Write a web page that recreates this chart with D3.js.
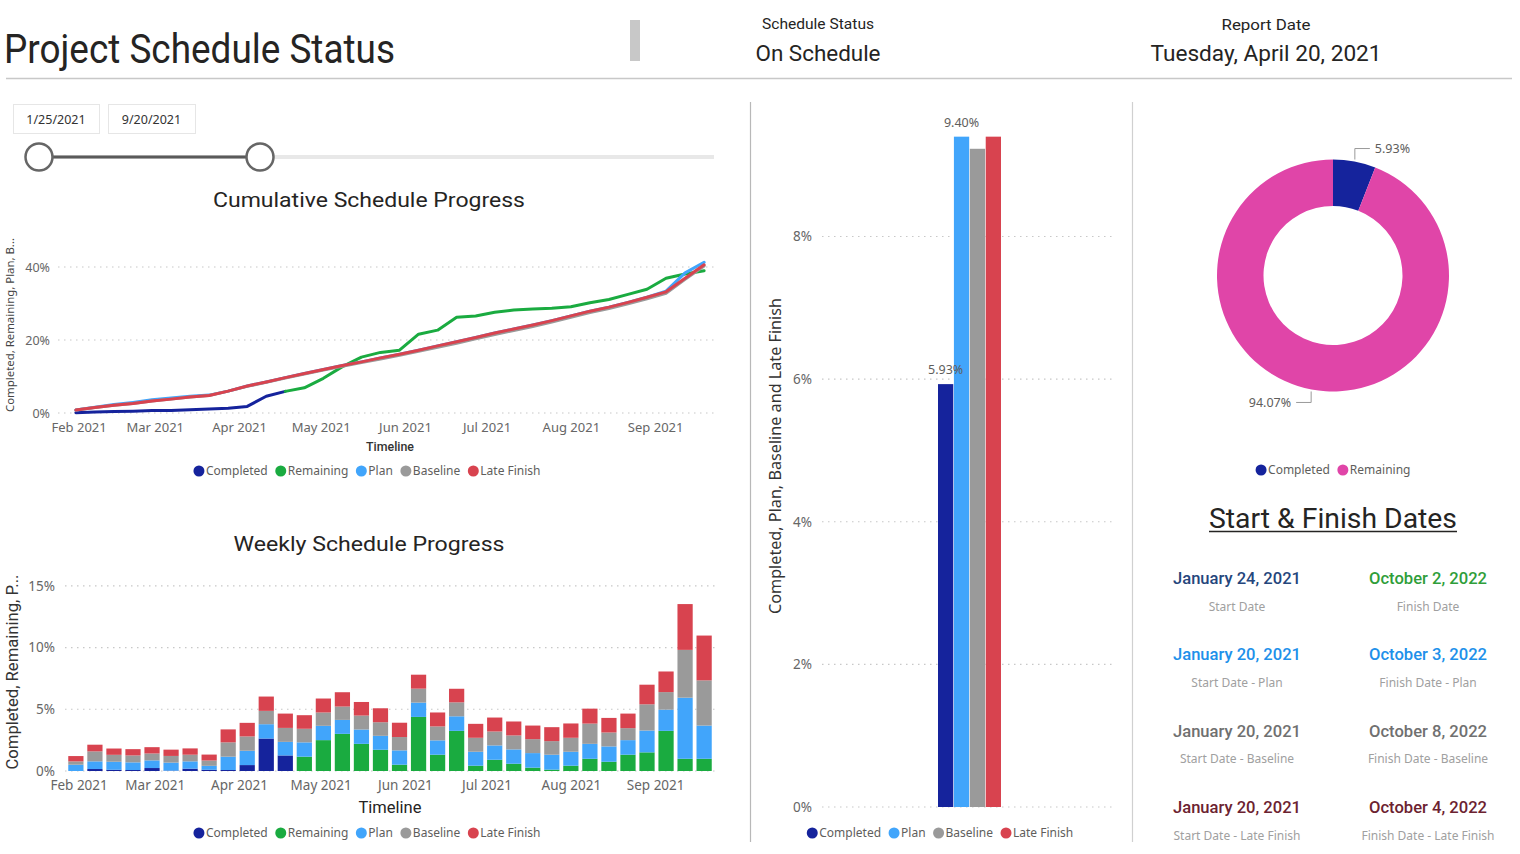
<!DOCTYPE html>
<html><head><meta charset="utf-8">
<script src="https://cdn.jsdelivr.net/npm/d3@7/dist/d3.min.js"></script>
<style>
html,body{margin:0;padding:0;background:#fff;overflow:hidden;}
svg{display:block;}
</style></head>
<body>
<svg id="chart" width="1520" height="854"></svg>
<script>
// ---------------- DATA ----------------
const seriesNames = ["Completed", "Remaining", "Plan", "Baseline", "Late Finish"];
const seriesColors = ["#15239c", "#1aab40", "#41a5fb", "#9a9a9a", "#d8434f"];

const weekStarts = ["2021-01-31","2021-02-07","2021-02-14","2021-02-21","2021-02-28","2021-03-07","2021-03-14",
  "2021-03-21","2021-03-28","2021-04-04","2021-04-11","2021-04-18","2021-04-25","2021-05-02","2021-05-09",
  "2021-05-16","2021-05-23","2021-05-30","2021-06-06","2021-06-13","2021-06-20","2021-06-27","2021-07-04",
  "2021-07-11","2021-07-18","2021-07-25","2021-08-01","2021-08-08","2021-08-15","2021-08-22","2021-08-29",
  "2021-09-05","2021-09-12","2021-09-19"];

// weekly (%)
const completedWeekly = [0, 0.16, 0.10, 0.08, 0.24, 0.03, 0.19, 0.10, 0.08, 0.48, 2.63, 1.26,
  0, 0, 0, 0, 0, 0, 0, 0, 0, 0, 0, 0, 0, 0, 0, 0, 0, 0, 0, 0, 0, 0];
const remainingWeekly = [0, 0, 0, 0, 0, 0, 0, 0, 0, 0, 0, 0,
  1.16, 2.50, 3.01, 2.20, 1.72, 0.51, 4.38, 1.32, 3.25, 0.43, 0.91, 0.59, 0.27, 0.11, 0.43, 0.99, 0.75, 1.32, 1.51, 3.25, 0.99, 0.99];
const planWeekly = [0.51, 0.62, 0.65, 0.62, 0.62, 0.65, 0.59, 0.32, 1.08, 1.16, 1.16, 1.10, 1.16, 1.16, 1.13, 1.16, 1.13,
  1.16, 1.16, 1.16, 1.18, 1.13, 1.16, 1.16, 1.18, 1.21, 1.13, 1.21, 1.24, 1.18, 1.77, 1.72, 4.95, 2.69];
const baselineWeekly = [0.27, 0.81, 0.56, 0.56, 0.56, 0.54, 0.54, 0.43, 1.16, 1.16, 1.08, 1.13, 1.10, 1.08, 1.08, 1.13, 1.10,
  1.08, 1.13, 1.13, 1.13, 1.13, 1.13, 1.13, 1.13, 1.10, 1.13, 1.64, 1.13, 0.97, 2.12, 1.42, 3.87, 3.66];
const lateFinishWeekly = [0.43, 0.54, 0.51, 0.51, 0.51, 0.51, 0.51, 0.48, 1.05, 1.10, 1.16, 1.16, 1.10, 1.13, 1.16, 1.10, 1.13,
  1.16, 1.13, 1.13, 1.10, 1.13, 1.13, 1.13, 1.10, 1.13, 1.16, 1.21, 1.18, 1.18, 1.59, 1.67, 3.71, 3.63];

// cumulative (%)
const completedCum = [0.1, 0.3, 0.4, 0.5, 0.7, 0.7, 0.9, 1.1, 1.3, 1.8, 4.6, 5.93,
  null, null, null, null, null, null, null, null, null, null, null, null, null, null, null, null, null, null, null, null, null, null];
const remainingCum = [null, null, null, null, null, null, null, null, null, null, null, 5.93,
  6.9, 9.5, 12.7, 15.3, 16.6, 17.2, 21.6, 22.7, 26.2, 26.6, 27.6, 28.2, 28.5, 28.7, 29.1, 30.2, 31.1, 32.5, 33.9, 36.9, 38.1, 39.0];
const planCum = [0.8, 1.6, 2.3, 2.9, 3.6, 4.1, 4.6, 4.9, 6.0, 7.4, 8.5, 9.7, 10.8, 11.9, 13.0, 14.0, 15.1,
  16.1, 17.2, 18.4, 19.5, 20.7, 21.9, 23.0, 24.1, 25.3, 26.6, 27.9, 29.0, 30.3, 31.7, 33.4, 38.4, 41.3];
const baselineCum = [0.8, 1.5, 2.1, 2.6, 3.3, 3.8, 4.4, 4.8, 6.0, 7.3, 8.4, 9.6, 10.7, 11.8, 12.8, 13.8, 14.8,
  15.8, 16.9, 18.0, 19.1, 20.3, 21.5, 22.6, 23.7, 24.9, 26.2, 27.5, 28.6, 29.9, 31.3, 32.8, 36.6, 40.3];
const lateFinishCum = [0.8, 1.5, 2.1, 2.6, 3.3, 3.8, 4.4, 4.8, 6.0, 7.4, 8.5, 9.7, 10.8, 11.9, 13.0, 14.0, 15.1,
  16.1, 17.2, 18.4, 19.5, 20.7, 21.9, 23.0, 24.1, 25.3, 26.6, 27.9, 29.0, 30.3, 31.7, 33.2, 36.9, 40.6];

// summary column chart (%)
const summaryNames = ["Completed", "Plan", "Baseline", "Late Finish"];
const summaryColors = ["#15239c", "#41a5fb", "#9a9a9a", "#d8434f"];
const summaryValues = [5.93, 9.40, 9.23, 9.40];
const summaryLabelShown = [true, true, false, false];
const summaryTicks = [0, 2, 4, 6, 8];

// donut (%)
const donutNames = ["Completed", "Remaining"];
const donutValues = [5.93, 94.07];
const donutColors = ["#15239c", "#e045a8"];

const cumTicks = [0, 20, 40];
const weeklyTicks = [0, 5, 10, 15];

// header & cards
const pageTitle = "Project Schedule Status";
const statusLabel = "Schedule Status";
const statusValue = "On Schedule";
const reportLabel = "Report Date";
const reportValue = "Tuesday, April 20, 2021";
const sliderStart = "1/25/2021";
const sliderEnd = "9/20/2021";

const datesTitle = "Start & Finish Dates";
const startDates = ["January 24, 2021", "January 20, 2021", "January 20, 2021", "January 20, 2021"];
const startLabels = ["Start Date", "Start Date - Plan", "Start Date - Baseline", "Start Date - Late Finish"];
const finishDates = ["October 2, 2022", "October 3, 2022", "October 8, 2022", "October 4, 2022"];
const finishLabels = ["Finish Date", "Finish Date - Plan", "Finish Date - Baseline", "Finish Date - Late Finish"];
const startColors = ["#25467c", "#2090ea", "#707070", "#6c2230"];
const finishColors = ["#2f9e3a", "#2090ea", "#707070", "#6c2230"];

// ---------------- DRAW ----------------
const svg = d3.select("#chart");
const DIN = "Roboto, 'DejaVu Sans', sans-serif";
const SEG = "'Noto Sans', 'Open Sans', sans-serif";
const AXIS = "#666666";
const GRID = "#c8c8c8";
const parse = d3.timeParse("%Y-%m-%d");
const dates = weekStarts.map(parse);

function addText(parent, x, y, str, o = {}) {
  const t = parent.append("text").attr("x", x).attr("y", y).text(str)
    .attr("font-family", o.family || SEG).attr("font-size", o.size || 12)
    .attr("fill", o.fill || "#333").attr("text-anchor", o.anchor || "start");
  if (o.weight) t.attr("font-weight", o.weight);
  if (o.width) t.attr("textLength", o.width).attr("lengthAdjust", "spacingAndGlyphs");
  if (o.rotate) t.attr("transform", `rotate(-90 ${x} ${y})`);
  return t;
}

function legend(cx, y, names, colors) {
  const g = svg.append("g");
  let x = 0;
  names.forEach((n, i) => {
    if (i > 0) x += 7.5;
    g.append("circle").attr("cx", x + 5.5).attr("cy", y).attr("r", 5.5).attr("fill", colors[i]);
    const t = addText(g, x + 12.5, y + 4.3, n, { size: 12, fill: "#605e5c" });
    x += 12.5 + t.node().getComputedTextLength();
  });
  g.attr("transform", `translate(${cx - x / 2},0)`);
}

// Header
addText(svg, 4, 63, pageTitle, { family: DIN, size: 40, fill: "#252423", width: 391 });
svg.append("rect").attr("x", 630).attr("y", 20).attr("width", 10).attr("height", 41).attr("fill", "#c8c8c8");
addText(svg, 818, 29, statusLabel, { family: DIN, size: 15, fill: "#252423", anchor: "middle", width: 112 });
addText(svg, 818, 61, statusValue, { family: DIN, size: 22, fill: "#252423", anchor: "middle", width: 125 });
addText(svg, 1266, 30, reportLabel, { family: DIN, size: 15, fill: "#252423", anchor: "middle", width: 89 });
addText(svg, 1266, 61, reportValue, { family: DIN, size: 22, fill: "#252423", anchor: "middle", width: 231 });
svg.append("line").attr("x1", 6).attr("x2", 1512).attr("y1", 78.5).attr("y2", 78.5)
  .attr("stroke", "#c8c8c8").attr("stroke-width", 1.5);

// Panel separators
svg.append("line").attr("x1", 750.5).attr("x2", 750.5).attr("y1", 102).attr("y2", 842).attr("stroke", "#b8b8b8").attr("stroke-width", 1.2);
svg.append("line").attr("x1", 1132.5).attr("x2", 1132.5).attr("y1", 102).attr("y2", 842).attr("stroke", "#d0d0d0").attr("stroke-width", 1.2);

// Slicer
[[13, 86, sliderStart], [108, 87, sliderEnd]].forEach(([x, w, s]) => {
  svg.append("rect").attr("x", x + 0.5).attr("y", 104.5).attr("width", w).attr("height", 29)
    .attr("fill", "#fff").attr("stroke", "#e6e6e6");
  addText(svg, x + w / 2, 124, s, { size: 12.5, fill: "#333", anchor: "middle" });
});
svg.append("line").attr("x1", 39).attr("x2", 714).attr("y1", 157).attr("y2", 157).attr("stroke", "#e8e8e8").attr("stroke-width", 4);
svg.append("line").attr("x1", 39).attr("x2", 260).attr("y1", 157).attr("y2", 157).attr("stroke", "#5a5a5a").attr("stroke-width", 3);
[39, 260].forEach(cx => svg.append("circle").attr("cx", cx).attr("cy", 157).attr("r", 13.5)
  .attr("fill", "#fff").attr("stroke", "#666").attr("stroke-width", 2.5));

// Shared time scale
const x = d3.scaleTime().domain([parse("2021-01-27"), parse("2021-09-23")]).range([65, 715]);
const weekPx = x(dates[1]) - x(dates[0]);
const barW = weekPx * 0.8;

function timeAxis(y, size) {
  const g = svg.append("g").attr("transform", `translate(0,${y})`)
    .call(d3.axisBottom(x).ticks(d3.timeMonth.every(1)).tickFormat(d3.timeFormat("%b %Y")).tickSize(0).tickPadding(0));
  g.select(".domain").remove();
  g.selectAll("text").attr("font-family", SEG).attr("font-size", size).attr("fill", AXIS).attr("dy", 0);
}

function yGrid(scale, ticks, x1, x2, labelX, size) {
  const g = svg.append("g");
  ticks.forEach(t => {
    g.append("line").attr("x1", x1).attr("x2", x2).attr("y1", scale(t)).attr("y2", scale(t))
      .attr("stroke", GRID).attr("stroke-dasharray", "1.5 4.5").attr("stroke-width", 1.2);
    addText(g, labelX, scale(t) + size * 0.36, t + "%", { size, fill: AXIS, anchor: "end" });
  });
}

// ---- Cumulative chart ----
addText(svg, 369, 207, "Cumulative Schedule Progress", { family: DIN, size: 21, fill: "#252423", anchor: "middle", width: 312 });
const yc = d3.scaleLinear().domain([0, 40]).range([413, 267]);
yGrid(yc, cumTicks, 58, 715, 50, 12.5);
timeAxis(432, 13);
addText(svg, 390, 451, "Timeline", { family: DIN, size: 12.5, fill: "#333", anchor: "middle", weight: 500, width: 48 });
addText(svg, 14, 325, "Completed, Remaining, Plan, B...", { size: 11, fill: "#444", anchor: "middle", rotate: true, width: 174 });

const cumSeries = [completedCum, remainingCum, planCum, baselineCum, lateFinishCum];
cumSeries.forEach((vals, i) => {
  const line = d3.line().defined(d => d[1] != null).x(d => x(d[0])).y(d => yc(d[1]));
  svg.append("path").datum(dates.map((d, j) => [d, vals[j]]))
    .attr("d", line).attr("fill", "none").attr("stroke", seriesColors[i])
    .attr("stroke-width", 3).attr("stroke-linejoin", "round").attr("stroke-linecap", "round");
});
legend(367, 471, seriesNames, seriesColors);

// ---- Weekly chart ----
addText(svg, 369, 551, "Weekly Schedule Progress", { family: DIN, size: 21, fill: "#252423", anchor: "middle", width: 271 });
const yw = d3.scaleLinear().domain([0, 15]).range([771, 585.8]);
yGrid(yw, weeklyTicks, 65, 715, 55, 13.5);
timeAxis(790, 13.5);
addText(svg, 390, 813, "Timeline", { family: DIN, size: 16.5, fill: "#252423", anchor: "middle", width: 63 });
addText(svg, 18, 672, "Completed, Remaining, P...", { family: DIN, size: 17, fill: "#333", anchor: "middle", rotate: true, width: 195 });

const weeklyTable = dates.map((d, j) => ({
  date: d, "Completed": completedWeekly[j], "Remaining": remainingWeekly[j], "Plan": planWeekly[j],
  "Baseline": baselineWeekly[j], "Late Finish": lateFinishWeekly[j]
}));
const stacked = d3.stack().keys(seriesNames)(weeklyTable);
stacked.forEach((layer, i) => {
  svg.append("g").selectAll("rect").data(layer.filter(d => d[1] - d[0] > 0)).join("rect")
    .attr("x", d => x(d.data.date) - barW / 2)
    .attr("width", barW)
    .attr("y", d => yw(d[1]))
    .attr("height", d => yw(d[0]) - yw(d[1]))
    .attr("fill", seriesColors[i]);
});
legend(367, 833, seriesNames, seriesColors);

// ---- Summary column chart ----
const ys = d3.scaleLinear().domain([0, 8]).range([807, 236.5]);
yGrid(ys, summaryTicks, 822, 1112, 812, 13.5);
const xs = d3.scaleBand().domain(summaryNames).range([938, 1001]).paddingInner(0.04);
summaryNames.forEach((n, i) => {
  svg.append("rect").attr("x", xs(n)).attr("width", xs.bandwidth())
    .attr("y", ys(summaryValues[i])).attr("height", ys(0) - ys(summaryValues[i]))
    .attr("fill", summaryColors[i]);
});
summaryNames.forEach((n, i) => {
  if (summaryLabelShown[i]) {
    addText(svg, xs(n) + xs.bandwidth() / 2, ys(summaryValues[i]) - 10, summaryValues[i].toFixed(2) + "%",
      { size: 12.5, fill: "#605e5c", anchor: "middle" });
  }
});
addText(svg, 781, 456, "Completed, Plan, Baseline and Late Finish", { size: 15.5, fill: "#333", anchor: "middle", rotate: true, width: 316 });
legend(940, 833, summaryNames, summaryColors);

// ---- Donut ----
const dcx = 1333, dcy = 275.5, rOut = 116, rIn = 69.5;
const pie = d3.pie().sort(null)(donutValues);
const arc = d3.arc().innerRadius(rIn).outerRadius(rOut);
const dg = svg.append("g").attr("transform", `translate(${dcx},${dcy})`);
dg.selectAll("path").data(pie).join("path").attr("d", arc).attr("fill", (d, i) => donutColors[i]);
pie.forEach((p, i) => {
  const a = (p.startAngle + p.endAngle) / 2;
  const sx = Math.sin(a) * (rOut + 2), sy = -Math.cos(a) * (rOut + 2);
  const up = sy < 0;
  const ey = sy + (up ? -11 : 11);
  const right = sx > 0;
  const ex = sx + (right ? 15 : -15);
  dg.append("path").attr("d", `M${sx},${sy}V${ey}H${ex}`).attr("fill", "none").attr("stroke", "#999").attr("stroke-width", 1);
  addText(dg, ex + (right ? 5 : -5), ey + 4.5, donutValues[i].toFixed(2) + "%",
    { size: 12.5, fill: "#605e5c", anchor: right ? "start" : "end" });
});
legend(1333, 470, donutNames, donutColors);

// ---- Start & Finish Dates ----
addText(svg, 1333, 528, datesTitle, { family: DIN, size: 28, fill: "#252423", anchor: "middle", width: 248 });
svg.append("line").attr("x1", 1209).attr("x2", 1457).attr("y1", 531.5).attr("y2", 531.5).attr("stroke", "#252423").attr("stroke-width", 1.5);
const rowY = [584, 660, 736.5, 813];
const lblY = [611, 687, 763, 840];
startDates.forEach((s, i) => {
  addText(svg, 1237, rowY[i], s, { family: DIN, size: 17, fill: startColors[i], anchor: "middle", weight: 500, width: 128 });
  addText(svg, 1237, lblY[i], startLabels[i], { size: 12, fill: "#a0a0a0", anchor: "middle" });
  addText(svg, 1428, rowY[i], finishDates[i], { family: DIN, size: 17, fill: finishColors[i], anchor: "middle", weight: 500, width: 118 });
  addText(svg, 1428, lblY[i], finishLabels[i], { size: 12, fill: "#a0a0a0", anchor: "middle" });
});
</script>
</body></html>
